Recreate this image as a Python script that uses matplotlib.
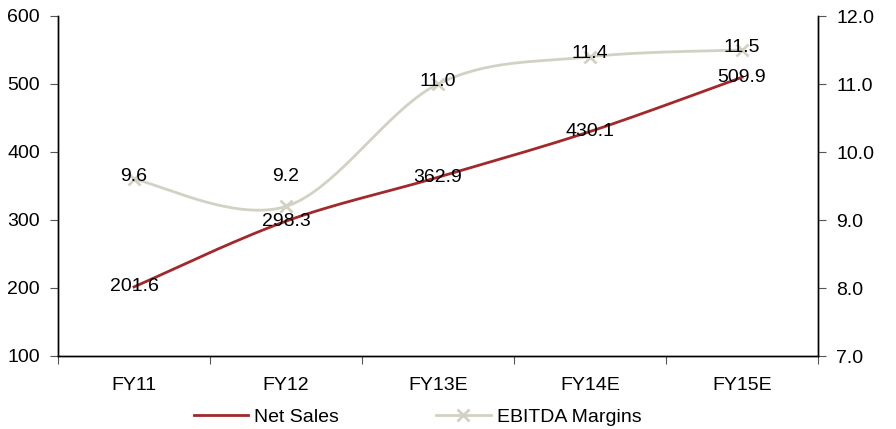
import numpy as np
import matplotlib.pyplot as plt
from matplotlib import font_manager

years = ["FY11", "FY12", "FY13E", "FY14E", "FY15E"]
net_sales = [201.6, 298.3, 362.9, 430.1, 509.9]
ebitda_margin = [9.6, 9.2, 11.0, 11.4, 11.5]

RED = "#A3282A"
BEIGE = "#D3D1C3"

names = {f.name for f in font_manager.fontManager.ttflist}
fam = "Liberation Sans Narrow" if "Liberation Sans Narrow" in names else "Liberation Sans"
plt.rcParams["font.family"] = [fam, "DejaVu Sans"]
plt.rcParams["font.size"] = 14


def smooth(xs, ys, n=40):
    # excel-like smoothed line (catmull-rom bezier)
    xs = np.asarray(xs, float)
    ys = np.asarray(ys, float)
    px, py = [], []
    for i in range(len(xs) - 1):
        x0, y0 = (xs[i - 1], ys[i - 1]) if i > 0 else (xs[i], ys[i])
        x3, y3 = (xs[i + 2], ys[i + 2]) if i + 2 < len(xs) else (xs[i + 1], ys[i + 1])
        x1, y1, x2, y2 = xs[i], ys[i], xs[i + 1], ys[i + 1]
        c1 = (x1 + (x2 - x0) / 6, y1 + (y2 - y0) / 6)
        c2 = (x2 - (x3 - x1) / 6, y2 - (y3 - y1) / 6)
        t = np.linspace(0, 1, n)
        bx = (1 - t) ** 3 * x1 + 3 * (1 - t) ** 2 * t * c1[0] + 3 * (1 - t) * t ** 2 * c2[0] + t ** 3 * x2
        by = (1 - t) ** 3 * y1 + 3 * (1 - t) ** 2 * t * c1[1] + 3 * (1 - t) * t ** 2 * c2[1] + t ** 3 * y2
        px.extend(bx)
        py.extend(by)
    return px, py


fig = plt.figure(figsize=(8.96, 4.29), dpi=100)
ax = fig.add_axes([58 / 896, 1 - 356 / 429, 760 / 896, 340 / 429])
ax2 = ax.twinx()

x = np.arange(len(years))

sx, sy = smooth(x, ebitda_margin)
ax2.plot(sx, sy, color=BEIGE, lw=2)
ax2.plot(x, ebitda_margin, ls="none", marker="x", ms=9, mew=2, color=BEIGE)
sx, sy = smooth(x, net_sales)
ax.plot(sx, sy, color=RED, lw=2)

for xi, v in zip(x, net_sales):
    ax.text(xi, v, f"{v:.1f}", ha="center", va="center")
# EBITDA labels sit a touch above the points; FY12 label lifted clear of the sales label
offsets = [3, 30, 3, 3, 3]
for xi, v, off in zip(x, ebitda_margin, offsets):
    ax2.annotate(f"{v:.1f}", (xi, v), xytext=(0, off * 0.72), textcoords="offset points",
                 ha="center", va="center")

ax.set_xlim(-0.5, len(years) - 0.5)
ax.set_ylim(100, 600)
ax2.set_ylim(7, 12)
ax.set_yticks(range(100, 601, 100))
ax2.set_yticks(np.arange(7, 12.01, 1))
ax2.set_yticklabels([f"{v:.1f}" for v in np.arange(7, 12.01, 1)])

ax.set_xticks(np.arange(-0.5, len(years), 1))
ax.set_xticklabels([])
ax.set_xticks(x, minor=True)
ax.set_xticklabels(years, minor=True)
ax.tick_params(axis="x", which="minor", length=0, pad=15)
ax.tick_params(axis="x", which="major", length=6, color="#555555", direction="out")
ax.tick_params(axis="y", length=6, color="#555555", pad=7)
ax2.tick_params(axis="y", length=6, color="#555555", pad=7)

for a in (ax, ax2):
    a.spines["top"].set_visible(False)
    for s in ("left", "right", "bottom"):
        a.spines[s].set_linewidth(1)
        a.spines[s].set_color("black")

h1 = plt.Line2D([], [], color=RED, lw=2)
h2 = plt.Line2D([], [], color=BEIGE, lw=2, marker="x", ms=9, mew=2)
fig.legend([h1, h2], ["Net Sales", "EBITDA Margins"], loc="center",
           bbox_to_anchor=(0.466, 1 - 417 / 429), ncol=2, frameon=False,
           handlelength=2.8, handletextpad=0.3, columnspacing=5.0,
           borderpad=0, borderaxespad=0)

fig.savefig("out.png", dpi=100)
